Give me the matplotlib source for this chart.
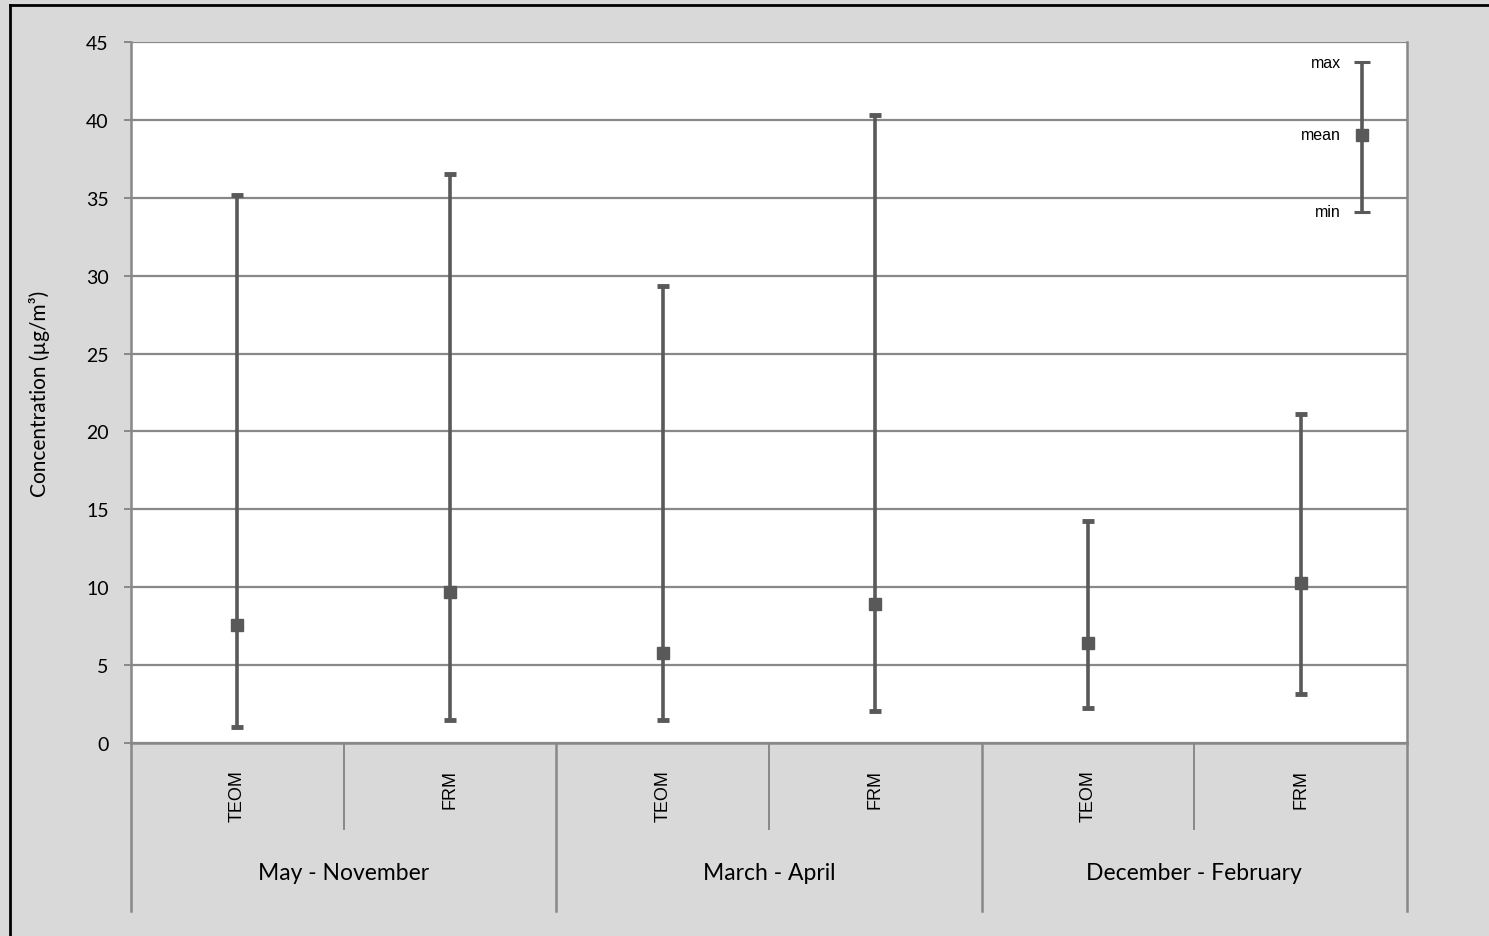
import numpy as np
import matplotlib
matplotlib.use("Agg")
import matplotlib.pyplot as plt
from matplotlib.lines import Line2D

# data
instruments = ["TEOM", "FRM", "TEOM", "FRM", "TEOM", "FRM"]
seasons     = ["May - November", "March - April", "December - February"]
mean_vals   = [7.6, 9.7, 5.8, 8.9, 6.4, 10.3]
min_vals    = [1.05, 1.5, 1.5, 2.05, 2.25, 3.15]
max_vals    = [35.2, 36.5, 29.35, 40.3, 14.25, 21.1]
y_ticks     = [0, 5, 10, 15, 20, 25, 30, 35, 40, 45]

# legend key (min, mean, max)
key_labels = ["min", "mean", "max"]
key_vals   = [34.1, 39.05, 43.7]

bg      = "#d9d9d9"
gridcol = "#888888"
barcol  = "#595959"

W, H = 1489, 937
fig = plt.figure(figsize=(W / 100, H / 100), dpi=100, facecolor=bg)
ax = fig.add_axes([131 / W, 1 - 744 / H, (1407 - 131) / W, (744 - 43) / H])
ax.set_facecolor("white")

x = np.arange(len(instruments)) + 0.5
mean_arr = np.array(mean_vals)
yerr = [mean_arr - np.array(min_vals), np.array(max_vals) - mean_arr]

ax.errorbar(x, mean_arr, yerr=yerr, fmt="s", color=barcol, ecolor=barcol,
            elinewidth=2.6, capsize=4.5, capthick=3.5, markersize=9, zorder=3)

# key in the top right corner
kx = 5.79
ax.errorbar([kx], [key_vals[1]], yerr=[[key_vals[1] - key_vals[0]], [key_vals[2] - key_vals[1]]],
            fmt="s", color=barcol, ecolor=barcol, elinewidth=2.6, capsize=6,
            capthick=2.2, markersize=8, zorder=3)
for lab, v in zip(key_labels, key_vals):
    ax.text(kx - 0.1, v, lab, ha="right", va="center", fontsize=11.5,
            family="Liberation Sans", color="black")

ax.set_xlim(0, 6)
ax.set_ylim(0, 45)
ax.set_yticks(y_ticks)
ax.set_yticklabels([str(t) for t in y_ticks], family="Lato", fontsize=14)
ax.set_xticks([])
ax.yaxis.grid(True, color=gridcol, linewidth=1.6)
ax.set_axisbelow(True)
ax.tick_params(axis="y", length=5, width=1.4, color=gridcol, pad=11)

ax.spines["top"].set_visible(False)
for s in ["left", "right", "bottom"]:
    ax.spines[s].set_color(gridcol)
    ax.spines[s].set_linewidth(1.8)
ax.spines["left"].set_bounds(0, 45)

# two-level category axis
ah = 701.0
trans = ax.get_xaxis_transform()
short = -86 / ah
long_ = -168 / ah
for xs in [1, 3, 5]:
    ax.add_line(Line2D([xs, xs], [0, short], transform=trans, color=gridcol,
                       linewidth=1.4, clip_on=False))
for xs in [0, 2, 4, 6]:
    ax.add_line(Line2D([xs, xs], [0, long_], transform=trans, color=gridcol,
                       linewidth=1.8, clip_on=False))

for xi, lab in zip(x, instruments):
    ax.text(xi, -26 / ah, lab, transform=trans, rotation=90, ha="center", va="top",
            fontsize=13, family="Liberation Sans")
for i, lab in enumerate(seasons):
    ax.text(2 * i + 1, -130 / ah, lab, transform=trans, ha="center", va="center",
            fontsize=16.5, family="Lato")

fig.text(40 / W, 1 - 394 / H, "Concentration (µg/m³)", rotation=90, ha="center",
         va="center", fontsize=15, family="Lato")

# outer frame (left and top edges only are visible)
fig.add_artist(Line2D([9.5 / W, 9.5 / W], [0, 1 - 5.5 / H], color="black", linewidth=2,
                      transform=fig.transFigure))
fig.add_artist(Line2D([9.5 / W, 1], [1 - 5.5 / H, 1 - 5.5 / H], color="black", linewidth=2,
                      transform=fig.transFigure))

fig.savefig("out.png", dpi=100, facecolor=bg)
